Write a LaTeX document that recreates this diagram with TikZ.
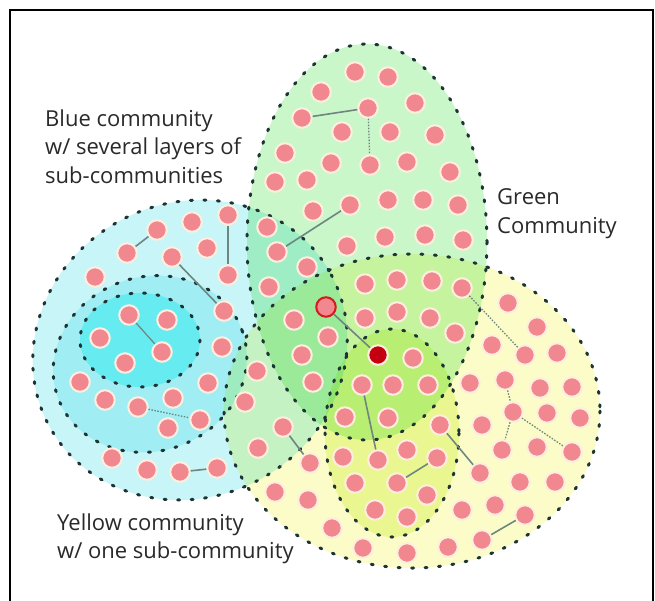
\documentclass[tikz,border=0pt]{standalone}
\usepackage{fontspec}
\setmainfont{Open Sans}
\definecolor{blueA}{HTML}{C8F5F8}
\definecolor{blueB}{HTML}{CCF8FA}
\definecolor{blueC}{HTML}{A4FCFC}
\definecolor{greenA}{HTML}{CAF7CA}
\definecolor{yellowA}{HTML}{FBFCC8}
\definecolor{yellowB}{HTML}{EEFAB8}
\definecolor{edgecol}{HTML}{1E3434}
\definecolor{dotpink}{HTML}{F2888F}
\definecolor{dotring}{HTML}{FFEEDF}
\definecolor{linkgray}{HTML}{6E8580}
\definecolor{textgray}{HTML}{2A2A2A}
\definecolor{darkred}{HTML}{C40010}
\definecolor{redring}{HTML}{D41A1A}
\begin{document}
\begin{tikzpicture}[x=1pt,y=-1pt,
  border/.style={draw=edgecol, line width=3pt, line cap=round, dash pattern=on 2pt off 11.5pt},
  dot/.style={circle, inner sep=0pt, minimum size=19.5pt, fill=dotpink, draw=dotring, line width=2pt},
  link/.style={draw=linkgray, line width=1.6pt},
  dlink/.style={draw=linkgray, line width=1.3pt, dash pattern=on 1.5pt off 1.5pt},
  lbl/.style={anchor=base west, inner sep=0pt, text=textgray, font=\fontsize{22}{27}\selectfont}
]
\useasboundingbox (0,0) rectangle (655,600);
\fill[white] (0,0) rectangle (655,600);

% ---------- regions ----------
\begin{scope}[blend mode=multiply]
  \fill[blueA, rotate around={28:(190,350)}] (190,350) ellipse [x radius=160, y radius=147];
  \fill[blueB, rotate around={20:(150,364)}] (150,364) ellipse [x radius=98, y radius=87];
  \fill[blueC] (140,340) ellipse [x radius=60, y radius=47];
  \fill[greenA] (367,242) ellipse [x radius=120, y radius=198];
  \fill[yellowA] (412,411) ellipse [x radius=188, y radius=157];
  \fill[yellowB] (392,433) ellipse [x radius=67, y radius=104];
\end{scope}

% ---------- dashed borders ----------
\draw[border, rotate around={28:(190,350)}] (190,350) ellipse [x radius=160, y radius=147];
\draw[border, rotate around={20:(150,364)}] (150,364) ellipse [x radius=98, y radius=87];
\draw[border] (140,340) ellipse [x radius=60, y radius=47];
\draw[border] (367,242) ellipse [x radius=120, y radius=198];
\draw[border] (412,411) ellipse [x radius=188, y radius=157];
\draw[border] (392,433) ellipse [x radius=67, y radius=104];

% ---------- frame ----------
\draw[black, line width=2pt] (10,606) -- (10,10) -- (653,10) -- (653,606);

% ---------- dots: green top ----------
\foreach \n/\x/\y in {g1/355/72, g2/388/77, g3/321/92, g4/368/108, g5/415/103,
  g6/302/118, g7/342/132, g8/390/132, g9/435/135, g10/285/153, g11/331/163,
  g12/370/165, g13/407/162, g14/450/172, g15/275/182, g16/307/180, g17/350/205,
  g18/388/200, g19/423/200, g20/458/205, g21/313/211, g22/347/246, g23/385/237,
  g24/425/235, g25/463/240, g26/267/227, g27/277/252, g28/307/267, g29/269/287}
  \node[dot] (\n) at (\x,\y) {};

% ---------- dots: blue ----------
\foreach \n/\x/\y in {b1/157/230, b2/192/222, b3/228/215, b4/127/253, b5/172/257,
  b6/207/248, b7/228/275, b8/95/277, b9/129/315, b10/167/320, b11/224/311,
  b12/100/338, b13/162/352, b14/125/363, b15/222/347, b16/80/382, b17/257/371,
  b18/208/383, b19/105/400, b20/138/407, b21/173/398, b22/168/428, b23/200/420,
  b24/245/402, b25/258/448, b26/112/458, b27/147/470, b28/180/472, b29/217/468}
  \node[dot] (\n) at (\x,\y) {};

% ---------- dots: centre and yellow ----------
\foreach \n/\x/\y in {c1/365/284, c2/397/280, c3/432/281, c4/462/288, c5/508/303,
  c6/294/320, c7/328/337, c8/302/355, c9/313/382,
  c10/365/318, c11/397/312, c12/430/318, c13/455/333,
  c14/537/327, c15/492/345, c16/525/355, c17/557/353, c18/413/358,
  c19/362/385, c20/393/385, c21/428/385, c22/470/383, c23/505/380, c24/540/388, c25/572/387,
  c26/345/417, c27/388/418, c28/440/425, c29/482/425, c30/513/412, c31/547/413, c32/580/418,
  c33/343/457, c34/378/460, c35/407/450, c36/437/458, c37/480/473, c38/502/450, c39/537/447, c40/572/452,
  c41/355/483, c42/397/483, c43/427/495, c44/462/510, c45/495/505, c46/525/515, c47/520/482, c48/555/482,
  c49/375/510, c50/407/517, c51/332/528, c52/363/548, c53/407/553, c54/448/547, c55/482/540,
  c56/283/427, c57/310/463, c58/275/492, c59/308/500}
  \node[dot] (\n) at (\x,\y) {};

\node[dot, draw=redring] (R) at (326,307) {};
\node[dot, fill=darkred, draw=dotring] (D) at (378,355) {};

% ---------- links ----------
\draw[link] (g6) -- (g4);
\draw[dlink] (g4) -- (g12);
\draw[link] (g27) -- (g17);
\draw[link] (b4) -- (b1);
\draw[link] (b3) -- (b7);
\draw[link] (b5) -- (b11);
\draw[link, line width=1.2pt] (b9) -- (b13);
\draw[dlink] (b20) -- (b23);
\draw[link] (b28) -- (b29);
\draw[link] (c56) -- (c57);
\draw[link] (R) -- (D);
\draw[link] (c19) -- (c34);
\draw[link] (c42) -- (c36);
\draw[link] (c28) -- (c37);
\draw[dlink] (c4) -- (c16);
\draw[dlink] (c23) -- (c30);
\draw[dlink] (c30) -- (c38);
\draw[dlink] (c30) -- (c40);
\draw[link] (c55) -- (c46);

% ---------- labels ----------
\node[lbl] (tb1) at (45,126) {Blue community};
\node[lbl] (tb2) at (45,154.5) {w/ several layers of};
\node[lbl] (tb3) at (45,183) {sub-communities};
\node[lbl] (tg1) at (497,204) {Green};
\node[lbl] (tg2) at (497,233) {Community};
\node[lbl] (ty1) at (57,530) {Yellow community};
\node[lbl] (ty2) at (57,558) {w/ one sub-community};
\end{tikzpicture}
\end{document}
